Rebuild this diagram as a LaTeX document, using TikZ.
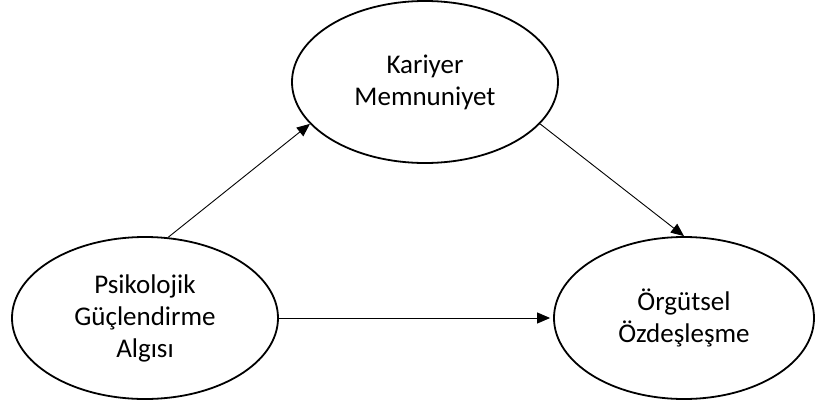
\documentclass[tikz,border=0pt]{standalone}
\usepackage{fontspec}
\setmainfont{Carlito}
\usetikzlibrary{shapes.geometric,arrows.meta}
\begin{document}
\begin{tikzpicture}[x=1pt,y=-1pt,
  ell/.style={ellipse, draw, line width=1.8pt, minimum width=266pt, minimum height=162pt,
    align=center, inner sep=0pt, font=\fontsize{27}{32}\selectfont},
  conn/.style={line width=0.9pt, -{Triangle[length=13pt,width=11pt]}}]
\useasboundingbox (0,0) rectangle (815,407);
\node[ell] (k) at (425,82) {Kariyer\\Memnuniyet};
\node[ell] (p) at (145,318) {Psikolojik\\Güçlendirme\\Algısı};
\node[ell, minimum width=260pt] (o) at (684,318) {Örgütsel\\Özdeşleşme};
\draw[conn] (p.74) -- (k.200);
\draw[conn] (k.-20) -- (o.90);
\draw[conn] (p.east) -- ([xshift=-3pt]p.east -| o.west);
\end{tikzpicture}
\end{document}
